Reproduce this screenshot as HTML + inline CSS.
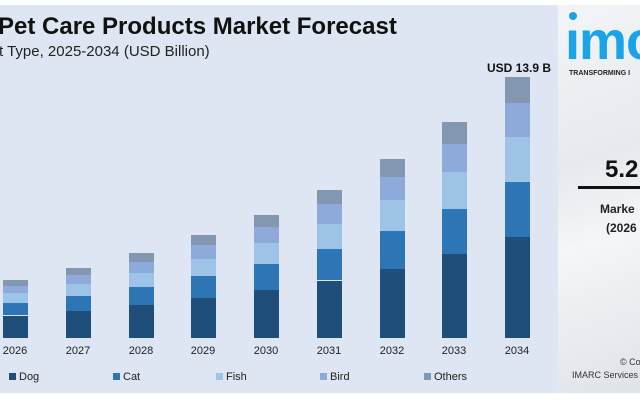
<!DOCTYPE html>
<html><head><meta charset="utf-8"><style>
body{margin:0;width:640px;height:400px;overflow:hidden;background:#fff;font-family:"Liberation Sans",sans-serif;position:relative}
.a{position:absolute;white-space:nowrap}
#main{left:0;top:5px;width:558px;height:388px;background:#dde6f2}
#side{left:558px;top:5px;width:82px;height:388px;background:linear-gradient(160deg,#f3f5f7 0%,#e6eaee 40%,#f4f6f8 60%,#dfe3e8 100%)}
.yr{font-size:11px;color:#222;width:40px;text-align:center;top:345px}
.lg{font-size:11px;color:#222;top:371px}
.sq{display:inline-block;width:7px;height:7px;margin-right:3px;vertical-align:0px}
</style></head><body>
<div class="a" id="main"></div>
<div class="a" id="side"></div>
<div class="a" style="left:-2px;top:13px;font-size:24px;font-weight:bold;color:#111">Pet Care Products Market Forecast</div>
<div class="a" style="left:-1px;top:43px;font-size:15px;color:#222">t Type, 2025-2034 (USD Billion)</div>
<div class="a" style="left:487px;top:61px;font-size:12px;font-weight:bold;color:#111">USD 13.9 B</div>
<div id="bars"></div>
<div class="a yr" style="left:-5px">2026</div>
<div class="a yr" style="left:58px">2027</div>
<div class="a yr" style="left:121px">2028</div>
<div class="a yr" style="left:183px">2029</div>
<div class="a yr" style="left:246px">2030</div>
<div class="a yr" style="left:309px">2031</div>
<div class="a yr" style="left:372px">2032</div>
<div class="a yr" style="left:434px">2033</div>
<div class="a yr" style="left:497px">2034</div>
<div class="a lg" style="left:9px"><span class="sq" style="background:#1f4e7a"></span>Dog</div>
<div class="a lg" style="left:113px"><span class="sq" style="background:#2e75b6"></span>Cat</div>
<div class="a lg" style="left:216px"><span class="sq" style="background:#9dc3e6"></span>Fish</div>
<div class="a lg" style="left:320px"><span class="sq" style="background:#8eaadb"></span>Bird</div>
<div class="a lg" style="left:424px"><span class="sq" style="background:#8497b0"></span>Others</div>
<div class="a" style="left:569px;top:12px;width:8px;height:8px;border-radius:50%;background:#1aa3e8"></div>
<div class="a" style="left:565px;top:10px;font-size:54px;font-weight:bold;color:#1aa3e8;letter-spacing:-1px">ımc</div>
<div class="a" style="left:569px;top:70px;font-size:7px;font-weight:bold;color:#222">TRANSFORMING I</div>
<div class="a" style="left:605px;top:156px;font-size:24px;font-weight:bold;color:#111">5.2</div>
<div class="a" style="left:578px;top:186px;width:62px;height:3px;background:#111"></div>
<div class="a" style="left:600px;top:202px;font-size:12px;font-weight:bold;color:#222">Marke</div>
<div class="a" style="left:606px;top:221px;font-size:12px;font-weight:bold;color:#222">(2026</div>
<div class="a" style="left:620px;top:357px;font-size:9px;color:#333">© Co</div>
<div class="a" style="left:572px;top:370px;font-size:9px;color:#333">IMARC Services P</div>
<script>
var xs=[3,66,129,191,254,317,380,442,505],tops=[280,267.5,253,235,214.5,189.5,159,122,77];
var fr=[.387,.211,.172,.13,.10],cols=["#1f4e7a","#2e75b6","#9dc3e6","#8eaadb","#8497b0"];
var h="";
for(var i=0;i<9;i++){var H=338-tops[i],y=338;for(var k=0;k<5;k++){var s=H*fr[k];y-=s;h+='<div class="a" style="left:'+xs[i]+'px;top:'+y.toFixed(1)+'px;width:25px;height:'+s.toFixed(1)+'px;background:'+cols[k]+'"></div>';}}
document.getElementById("bars").innerHTML=h;
</script>
</body></html>
